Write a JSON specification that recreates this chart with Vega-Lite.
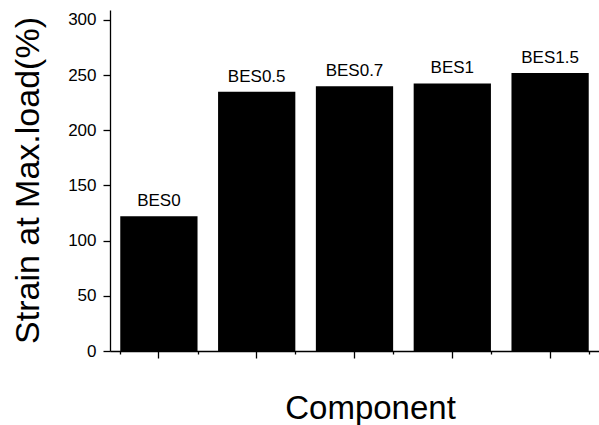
{
  "$schema": "https://vega.github.io/schema/vega-lite/v6.json",
  "autosize": "none",
  "width": 489,
  "height": 341,
  "padding": {"left": 110, "top": 10, "right": 0, "bottom": 74},
  "background": "white",
  "config": {
    "view": {"stroke": null},
    "axis": {"domainColor": "black", "tickColor": "black", "domainWidth": 1.3, "tickWidth": 1.3, "grid": false}
  },
  "data": {
    "values": [
      {"component": "BES0", "strain": 122},
      {"component": "BES0.5", "strain": 235},
      {"component": "BES0.7", "strain": 240},
      {"component": "BES1", "strain": 242.5},
      {"component": "BES1.5", "strain": 252}
    ]
  },
  "layer": [
    {
      "mark": {"type": "bar", "color": "black"},
      "encoding": {
        "x": {
          "field": "component", "type": "nominal", "sort": null,
          "scale": {"paddingInner": 0.21, "paddingOuter": 0.105},
          "axis": {
            "orient": "bottom", "labels": false, "tickSize": 7, "domain": true,
            "title": "Component", "titleFont": "Liberation Sans", "titleFontSize": 33,
            "titleFontWeight": "normal", "titleColor": "black",
            "titleX": 260, "titleY": 67, "titleBaseline": "alphabetic", "titleAnchor": "middle", "titleAlign": "center"
          }
        },
        "y": {
          "field": "strain", "type": "quantitative",
          "scale": {"domain": [0, 309], "nice": false},
          "axis": {
            "values": [0, 25, 50, 75, 100, 125, 150, 175, 200, 225, 250, 275, 300],
            "labelExpr": "datum.value % 50 === 0 ? datum.label : ''",
            "tickSize": {"condition": {"test": "datum.value % 50 === 0", "value": 7}, "value": 3},
            "labelPadding": 7,
            "labelFont": "Liberation Sans", "labelFontSize": 17, "labelColor": "black",
            "title": "Strain at Max.load(%)", "titleFont": "Liberation Sans", "titleFontSize": 34,
            "titleFontWeight": "normal", "titleColor": "black",
            "titleX": -72, "titleY": 170, "titleBaseline": "alphabetic", "titleAngle": -90, "titleAlign": "center"
          }
        }
      }
    },
    {
      "mark": {"type": "text", "baseline": "alphabetic", "dy": -10, "font": "Liberation Sans", "fontSize": 17, "color": "black"},
      "encoding": {
        "x": {
          "field": "component", "type": "nominal", "sort": null,
          "axis": {"orient": "bottom", "tickBand": "extent", "labels": false, "tickSize": 3, "domain": false, "title": null}
        },
        "y": {"field": "strain", "type": "quantitative"},
        "text": {"field": "component"}
      }
    }
  ],
  "resolve": {"axis": {"x": "independent"}}
}
